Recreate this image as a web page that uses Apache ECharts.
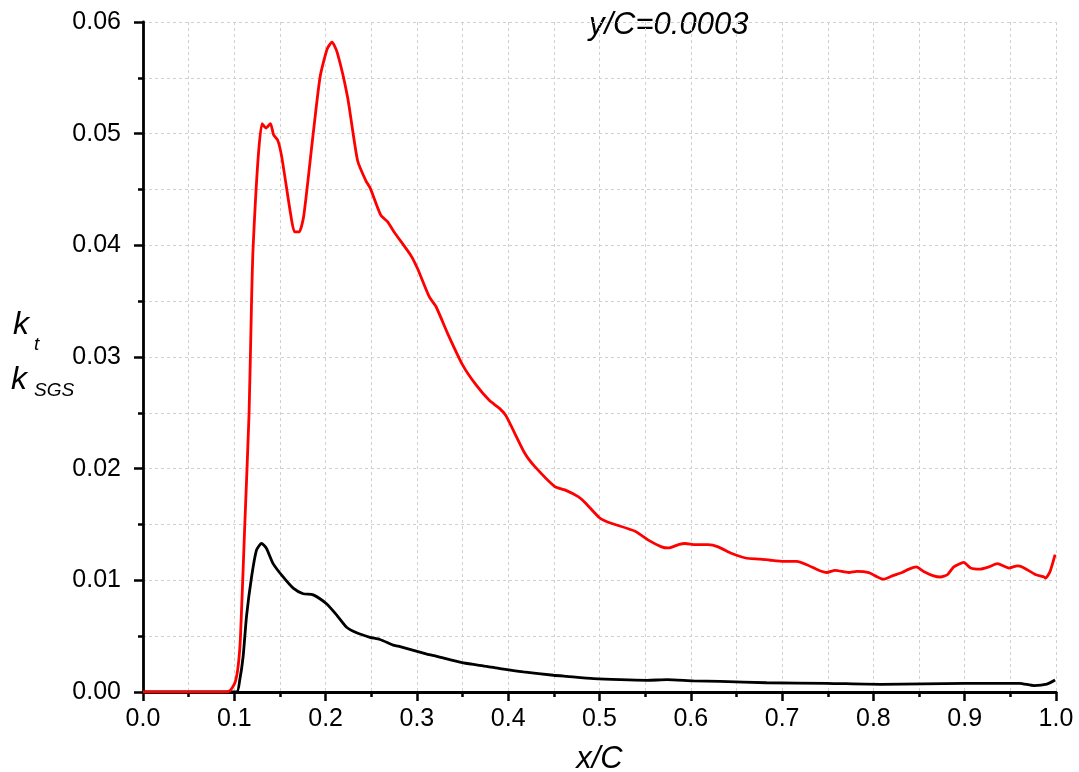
<!DOCTYPE html>
<html>
<head>
<meta charset="utf-8">
<script src="https://cdn.jsdelivr.net/npm/echarts@6/dist/echarts.min.js"></script>
<style>
  html, body { margin: 0; padding: 0; background: #fff; }
  #chart { width: 1079px; height: 772px; }
</style>
</head>
<body>
<div id="chart"></div>
<script>
// k_t (red) along x/C
const ktX = [0, 0.02, 0.05, 0.08, 0.09, 0.095, 0.1006, 0.1042, 0.1068, 0.1115, 0.1162, 0.1189, 0.1205,
  0.126, 0.1304, 0.1348, 0.1396, 0.143, 0.1476, 0.152, 0.1615, 0.166, 0.171, 0.176, 0.186, 0.194,
  0.2018, 0.207, 0.213, 0.224, 0.235, 0.244, 0.249, 0.2604, 0.268, 0.275, 0.2934, 0.3008, 0.3135,
  0.321, 0.3337, 0.35, 0.3648, 0.3795, 0.3905, 0.3978, 0.418, 0.429, 0.451, 0.462, 0.4766, 0.4838,
  0.5, 0.5095, 0.539, 0.5535, 0.568, 0.5755, 0.5865, 0.5938, 0.605, 0.619, 0.63, 0.645, 0.66, 0.676,
  0.687, 0.702, 0.716, 0.727, 0.74, 0.749, 0.758, 0.773, 0.782, 0.795, 0.802, 0.811, 0.8206, 0.8315,
  0.839, 0.847, 0.855, 0.866, 0.8735, 0.881, 0.888, 0.899, 0.9065, 0.917, 0.9265, 0.9357, 0.9485,
  0.9577, 0.963, 0.978, 0.987, 0.9887, 0.9935, 0.999];
const ktY = [0, 0, 0, 0, 0, 0.0001, 0.0008, 0.0023, 0.005, 0.015, 0.025, 0.035, 0.0396,
  0.0477, 0.0509, 0.0505, 0.0509, 0.0499, 0.0494, 0.0479, 0.0429, 0.0412, 0.0412, 0.0426, 0.0497, 0.0551,
  0.0576, 0.0582, 0.0572, 0.0533, 0.0476, 0.0458, 0.0451, 0.0427, 0.0421, 0.0412, 0.0391, 0.0379, 0.0354,
  0.0345, 0.0321, 0.0293, 0.0275, 0.0261, 0.0254, 0.0247, 0.0214, 0.0202, 0.0184, 0.0181, 0.0175, 0.017,
  0.0156, 0.0152, 0.0144, 0.0136, 0.013, 0.0129, 0.0132, 0.0133, 0.0132, 0.0132, 0.013, 0.0124, 0.012, 0.0119,
  0.0118, 0.0117, 0.0117, 0.0114, 0.0109, 0.0107, 0.0109, 0.0107, 0.0108, 0.0107, 0.0104, 0.0101, 0.0104, 0.0107,
  0.011, 0.0112, 0.0108, 0.0104, 0.0103, 0.0105, 0.0112, 0.0116, 0.0111, 0.011, 0.0112, 0.0115, 0.0111,
  0.0113, 0.0112, 0.0105, 0.0103, 0.0102, 0.0108, 0.0123];

// k_SGS (black)
const sgsX = [0, 0.05, 0.1024, 0.106, 0.1097, 0.1134, 0.1189, 0.1243, 0.1298, 0.135, 0.1425, 0.1535,
  0.1645, 0.1754, 0.1864, 0.201, 0.212, 0.223, 0.234, 0.2486, 0.2595, 0.274, 0.2796, 0.311, 0.3217,
  0.351, 0.3765, 0.391, 0.4167, 0.4496, 0.464, 0.4934, 0.5227, 0.552, 0.574, 0.603, 0.632, 0.683,
  0.749, 0.808, 0.9, 0.96, 0.976, 0.99, 0.999];
const sgsY = [0, 0, 0, 0.0011, 0.0032, 0.0068, 0.0103, 0.0127, 0.0133, 0.0129, 0.0115, 0.0103,
  0.0093, 0.0088, 0.0087, 0.0079, 0.0069, 0.0058, 0.0053, 0.0049, 0.0047, 0.0042, 0.0041, 0.0034, 0.0032,
  0.0026, 0.0023, 0.0021, 0.0018, 0.0015, 0.0014, 0.0012, 0.0011, 0.00105, 0.0011, 0.001, 0.00096, 0.00083,
  0.00078, 0.00069, 0.00078, 0.00078, 0.00057, 0.0007, 0.00107];

const pair = (xs, ys) => xs.map((x, i) => [x, ys[i]]);

const chart = echarts.init(document.getElementById('chart'), null, { renderer: 'canvas' });

const gridLine = { show: true, lineStyle: { color: '#d0d0d0', type: [3, 3], width: 1 } };
const font = 'Liberation Sans';

chart.setOption({
  animation: false,
  backgroundColor: '#fff',
  grid: { left: 143, right: 23, top: 22, bottom: 80, containLabel: false, outerBoundsMode: 'none' },
  xAxis: {
    type: 'value',
    min: 0, max: 1, interval: 0.1,
    axisLine: { lineStyle: { color: '#000', width: 2.8 } },
    axisTick: { inside: false, length: 9, lineStyle: { color: '#000', width: 2.5 } },
    minorTick: { show: true, splitNumber: 2, length: 5, lineStyle: { color: '#000', width: 2.5 } },
    splitLine: gridLine,
    minorSplitLine: gridLine,
    axisLabel: { color: '#000', fontSize: 25, fontFamily: font, margin: 15,
      formatter: v => v.toFixed(1) },
    name: 'x/C',
    nameLocation: 'middle',
    nameGap: 52,
    nameTextStyle: { color: '#000', fontSize: 31, fontStyle: 'italic', fontFamily: font }
  },
  yAxis: {
    type: 'value',
    min: 0, max: 0.06, interval: 0.01,
    axisLine: { show: true, lineStyle: { color: '#000', width: 2.8 } },
    axisTick: { show: true, length: 9, lineStyle: { color: '#000', width: 2.5 } },
    minorTick: { show: true, splitNumber: 2, length: 5, lineStyle: { color: '#000', width: 2.5 } },
    splitLine: gridLine,
    minorSplitLine: gridLine,
    axisLabel: { color: '#000', fontSize: 25, fontFamily: font, margin: 22,
      formatter: v => v.toFixed(2) }
  },
  graphic: [
    { type: 'text', left: 589, top: 10,
      style: { text: 'y/C=0.0003', font: 'italic 31px "Liberation Sans"', fill: '#000' } },
    { type: 'text', left: 13, top: 309,
      style: { text: 'k', font: 'italic 32px "Liberation Sans"', fill: '#000' } },
    { type: 'text', left: 34, top: 335,
      style: { text: 't', font: 'italic 19px "Liberation Sans"', fill: '#000' } },
    { type: 'text', left: 11, top: 364,
      style: { text: 'k', font: 'italic 32px "Liberation Sans"', fill: '#000' } },
    { type: 'text', left: 34, top: 381,
      style: { text: 'SGS', font: 'italic 19px "Liberation Sans"', fill: '#000' } }
  ],
  series: [
    {
      name: 'kSGS', type: 'line', data: pair(sgsX, sgsY),
      showSymbol: false, smooth: 0.2,
      lineStyle: { color: '#000', width: 2.8 }
    },
    {
      name: 'kt', type: 'line', data: pair(ktX, ktY),
      showSymbol: false, smooth: 0.2,
      lineStyle: { color: '#ff0000', width: 2.8 }
    }
  ]
});
</script>
</body>
</html>
